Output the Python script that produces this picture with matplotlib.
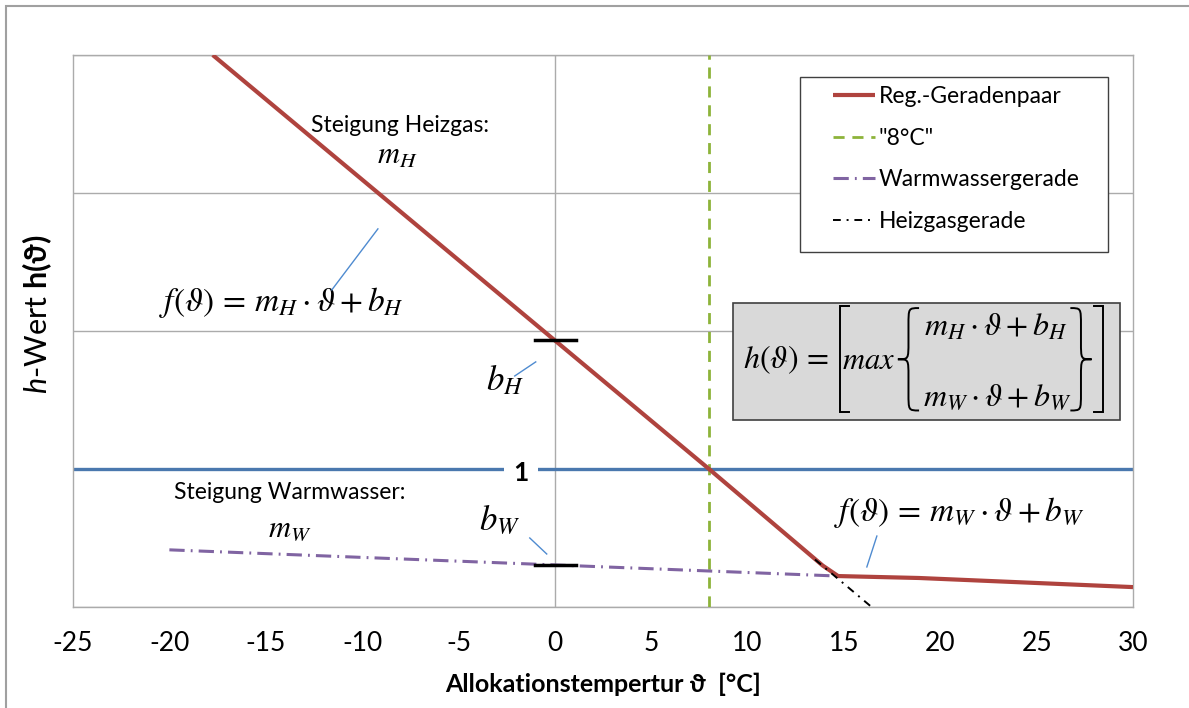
import matplotlib as mpl
from matplotlib import pyplot as plt
from matplotlib.patches import Rectangle, PathPatch
from matplotlib.path import Path

plt.rcParams['font.family'] = ['Lato', 'DejaVu Sans']
plt.rcParams['axes.unicode_minus'] = False
plt.rcParams['mathtext.fontset'] = 'stix'
plt.rcParams['mathtext.rm'] = 'Lato'
plt.rcParams['mathtext.it'] = 'Lato:italic'
plt.rcParams['mathtext.bf'] = 'Lato:bold'

red = "#AF433E"
green = "#8DB33A"
purple = "#8064A2"
blue = "#4A78AE"
grid = "#ABABAB"
lead = "#4F8BD0"

# data
reg_x = [-17.75, 0.0, 8.0, 13.9, 14.7, 18.9, 30.0]
reg_y = [2.50, 1.466, 1.00, 0.650, 0.612, 0.605, 0.572]
ww_x = [-20.0, 14.7]
ww_y = [0.707, 0.612]
hg_x = [13.5, 16.4]
hg_y = [0.672, 0.502]
t8_x = 8
one_y = 1.0
bh_y = 1.467
bw_y = 0.652
xticks = [-25, -20, -15, -10, -5, 0, 5, 10, 15, 20, 25, 30]


def brace(ax, x_tip, x_end, y0, y1, lw=1.4):
    # curly brace with its point at x_tip, arms ending at x_end
    xm = (x_tip + x_end) / 2
    ym = (y0 + y1) / 2
    d = (y1 - y0) * 0.17
    verts = [(x_end, y1), (xm, y1), (xm, y1), (xm, y1 - d),
             (xm, ym + d), (xm, ym), (xm, ym), (x_tip, ym),
             (xm, ym), (xm, ym), (xm, ym - d),
             (xm, y0 + d), (xm, y0), (xm, y0), (x_end, y0)]
    codes = [Path.MOVETO, Path.CURVE4, Path.CURVE4, Path.CURVE4,
             Path.LINETO, Path.CURVE4, Path.CURVE4, Path.CURVE4,
             Path.CURVE4, Path.CURVE4, Path.CURVE4,
             Path.LINETO, Path.CURVE4, Path.CURVE4, Path.CURVE4]
    ax.add_patch(PathPatch(Path(verts, codes), fill=False, lw=lw,
                           edgecolor="black", zorder=7))


def bracket(ax, x_line, x_serif, y0, y1, lw=1.4):
    ax.plot([x_serif, x_line, x_line, x_serif], [y1, y1, y0, y0],
            color="black", lw=lw, zorder=7, solid_joinstyle="miter")


fig = plt.figure(figsize=(11.89, 7.08), dpi=100)
ax = fig.add_axes([0.0614, 0.1427, 0.8915, 0.7796])

# outer frame
fig.patches.append(Rectangle((6 / 1189, -0.1), 1.2, 1.1 - 6 / 708,
                             transform=fig.transFigure, fill=False,
                             edgecolor="#A0A0A0", lw=1.5))

ax.set_xlim(-25, 30)
ax.set_ylim(0.5, 2.5)
ax.set_xticks(xticks)
ax.set_yticks([0.5, 1.0, 1.5, 2.0, 2.5])
ax.set_yticklabels([])
ax.tick_params(length=0, labelsize=19, pad=17)
ax.grid(axis="y", color=grid, lw=1)
ax.axvline(0, color=grid, lw=1, zorder=1)
for s in ax.spines.values():
    s.set_color(grid)
    s.set_linewidth(1)

ax.axhline(one_y, color=blue, lw=2.4, zorder=2)
l8 = ax.axvline(t8_x, color=green, lw=2, dashes=(4, 2.8), zorder=3,
                label='"8°C"')
lww, = ax.plot(ww_x, ww_y, color=purple, lw=2.2, dashes=(5, 2, 0.6, 2),
               label="Warmwassergerade", zorder=3)
lhg, = ax.plot(hg_x, hg_y, color="black", lw=1.4, dashes=(4, 3, 1, 3),
               label="Heizgasgerade", zorder=4)
lreg, = ax.plot(reg_x, reg_y, color=red, lw=3, label="Reg.-Geradenpaar",
                zorder=3, solid_capstyle="butt")

# b markers on the axis
ax.plot([-1.04, 1.09], [bh_y, bh_y], color="black", lw=2.5, zorder=5)
ax.plot([-1.04, 1.09], [bw_y, bw_y], color="black", lw=2.5, zorder=5)

# leader lines
for (x1, y1), (x2, y2) in [((-11.57, 1.649), (-9.18, 1.870)),
                           ((-2.08, 1.337), (-0.99, 1.388)),
                           ((-1.30, 0.750), (-0.42, 0.692)),
                           ((16.71, 0.757), (16.19, 0.645))]:
    ax.plot([x1, x2], [y1, y2], color=lead, lw=1, zorder=4)

txt = dict(ha="center", va="center", fontsize=16.5)
mth = dict(ha="center", va="center")
ax.text(-8.04, 2.246, "Steigung Heizgas:", **txt)
ax.text(-8.2, 2.135, r"$m_H$", fontsize=22, **mth)
ax.text(-14.17, 1.605, r"$f(\vartheta)\,=\,m_H\cdot\vartheta+b_H$",
        fontsize=24, **mth)
ax.text(-2.6, 1.322, r"$b_H$", fontsize=25, **mth)
ax.text(-13.75, 0.913, "Steigung Warmwasser:", **txt)
ax.text(-13.75, 0.783, r"$m_W$", fontsize=22, **mth)
ax.text(-2.85, 0.815, r"$b_W$", fontsize=25, **mth)
ax.text(21.0, 0.841, r"$f(\vartheta)\,=\,m_W\cdot\vartheta+b_W$",
        fontsize=24, **mth)
ax.text(-1.76, 0.985, "1", ha="center", va="center", fontsize=19,
        fontweight="bold", zorder=6,
        bbox=dict(facecolor="white", edgecolor="none", pad=7))

# formula box
ax.add_patch(Rectangle((9.24, 1.178), 29.32 - 9.24, 1.601 - 1.178,
                       facecolor="#D9D9D9", edgecolor="#404040", lw=1.2,
                       zorder=6))
ax.text(11.99, 1.395, r"$h(\vartheta)\,=$", fontsize=23, zorder=7, **mth)
bracket(ax, 14.78, 15.25, 1.207, 1.591)
ax.text(16.3, 1.395, r"$max$", fontsize=22, zorder=7, **mth)
brace(ax, 17.8, 18.9, 1.212, 1.583)
ax.text(22.88, 1.516, r"$m_H\cdot\vartheta+b_H$", fontsize=23, zorder=7,
        **mth)
ax.text(22.95, 1.262, r"$m_W\cdot\vartheta+b_W$", fontsize=23, zorder=7,
        **mth)
brace(ax, 27.85, 26.75, 1.212, 1.583)
bracket(ax, 28.43, 27.96, 1.207, 1.591)

# legend with a hand-placed frame
ax.add_patch(Rectangle((0.686, 0.643), 0.976 - 0.686, 0.960 - 0.643,
                       transform=ax.transAxes, facecolor="white",
                       edgecolor="#404040", lw=1, zorder=7))
leg = ax.legend(handles=[lreg, l8, lww, lhg], loc="upper left",
                bbox_to_anchor=(0.717, 0.944), borderaxespad=0,
                borderpad=0, fontsize=16.5, frameon=False,
                labelspacing=0.9, handlelength=1.85, handletextpad=0.15)
leg.set_zorder(8)

ax.set_xlabel(r"Allokationstempertur ϑ  [°C]", fontsize=18,
              fontweight="bold", labelpad=12)
ax.set_ylabel(r"$h$-Wert $\mathbf{h(\vartheta)}$", fontsize=22,
              math_fontfamily="custom")
ax.yaxis.set_label_coords(-0.018, 0.53)

plt.savefig("out.png", dpi=100)
